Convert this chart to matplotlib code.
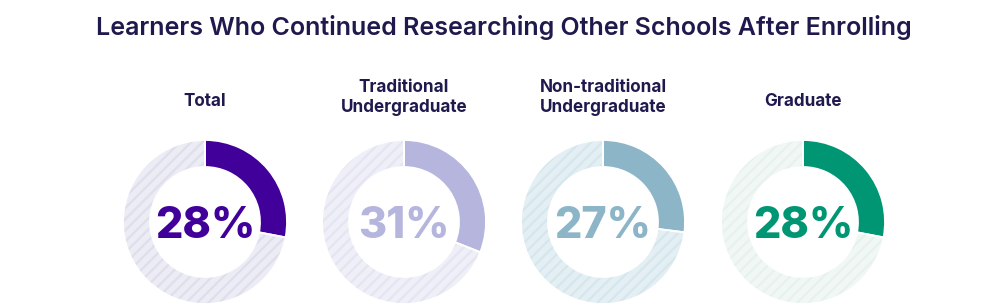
import matplotlib
matplotlib.use("Agg")
import matplotlib.pyplot as plt

plt.rcParams['hatch.linewidth'] = 1.6
plt.rcParams['font.family'] = ['Inter', 'DejaVu Sans']

title = "Learners Who Continued Researching Other Schools After Enrolling"
categories = ["Total", "Traditional\nUndergraduate", "Non-traditional\nUndergraduate", "Graduate"]
values = [28, 31, 27, 28]
main_colors = ["#42009a", "#b5b5de", "#8cb5c8", "#009673"]
rest_colors = ["#ececf5", "#efeff8", "#e4eff4", "#f0f7f4"]
stripe_colors = ["#dedeed", "#e4e4f3", "#d5e6ed", "#e7f2ed"]

W, H = 1008, 306
fig = plt.figure(figsize=(W / 100, H / 100), dpi=100)
ax = fig.add_axes([0, 0, 1, 1])

centers_x = [205, 404, 603, 803]
cy = H - 222
R, RW = 82, 27
text_color = "#1f1a4d"

for i, (cat, v) in enumerate(zip(categories, values)):
    cx = centers_x[i]
    wedges, _ = ax.pie([v, 100 - v], center=(cx, cy), radius=R, startangle=90,
                       counterclock=False, colors=[main_colors[i], rest_colors[i]],
                       wedgeprops=dict(width=RW, linewidth=0))
    wedges[1].set_hatch('///')
    wedges[1].set_edgecolor(stripe_colors[i])
    wedges[1].set_linewidth(0)
    ax.pie([v, 100 - v], center=(cx, cy), radius=R, startangle=90,
           counterclock=False, colors=['none', 'none'],
           wedgeprops=dict(width=RW, linewidth=1.3, edgecolor='white', fill=False))
    ax.text(cx, cy, f"{v}%", ha='center', va='center_baseline', fontsize=31,
            fontweight='heavy', color=main_colors[i])
    ly = H - (101 if '\n' not in cat else 97.5)
    ax.text(cx, ly, cat, ha='center', va='center', fontsize=12.3, fontweight='bold',
            color=text_color, linespacing=1.3)

fig.text(504 / W, 1 - 27 / H, title, ha='center', va='center', fontsize=18,
         fontweight='semibold', color=text_color)

ax.set_xlim(0, W)
ax.set_ylim(0, H)
ax.set_aspect('auto')
ax.axis('off')
fig.savefig("out.png", dpi=100, facecolor='white')
